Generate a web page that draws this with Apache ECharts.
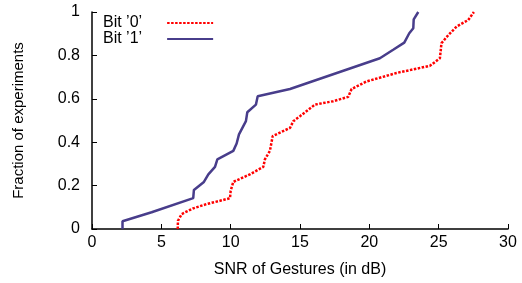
<!DOCTYPE html>
<html>
<head>
<meta charset="utf-8">
<script src="https://cdn.jsdelivr.net/npm/echarts@6/dist/echarts.min.js"></script>
<style>
  html, body { margin: 0; padding: 0; background: #fff; }
  #chart { width: 522px; height: 283px; }
</style>
</head>
<body>
<div id="chart"></div>
<script>
// SNR (dB) vs cumulative fraction
const bit0Snr = [6.18, 6.2, 6.47, 7.3, 8.27, 9.23, 9.95, 10.0, 10.19, 11.39, 12.35, 12.47, 12.83, 13.03, 14.28, 14.52, 15.0, 16.08, 17.4, 18.48, 18.72, 19.8, 21.96, 24.37, 25.09, 25.2, 25.7, 26.3, 27.13, 27.54];
const bit0Frac = [0, 0.038, 0.069, 0.095, 0.115, 0.13, 0.142, 0.176, 0.217, 0.252, 0.286, 0.321, 0.36, 0.428, 0.466, 0.497, 0.52, 0.573, 0.589, 0.609, 0.645, 0.68, 0.719, 0.752, 0.787, 0.856, 0.894, 0.933, 0.963, 1.0];

const bit1Snr = [2.2, 2.2, 4.3, 7.3, 7.35, 8.07, 8.39, 8.87, 9.04, 10.19, 10.43, 10.6, 11.1, 11.2, 11.82, 11.95, 14.28, 20.76, 21.72, 22.52, 22.88, 23.17, 23.2, 23.53];
const bit1Frac = [0, 0.036, 0.077, 0.142, 0.18, 0.217, 0.252, 0.286, 0.321, 0.36, 0.394, 0.436, 0.497, 0.538, 0.573, 0.612, 0.645, 0.787, 0.826, 0.859, 0.902, 0.925, 0.966, 1.0];

const seriesNames = ['Bit \u20190\u2019', 'Bit \u20191\u2019'];

const pairs = (xs, ys) => xs.map((x, i) => [x, ys[i]]);

const font = 'Liberation Sans, Arial, Helvetica, sans-serif';
const chart = echarts.init(document.getElementById('chart'));

const axisCommon = {
  axisLine: { show: true, lineStyle: { color: '#000', width: 1.5 } },
  axisTick: { show: true, inside: true, length: 5, lineStyle: { color: '#000', width: 1 } },
  splitLine: { show: false },
  axisLabel: { color: '#000', fontSize: 16, fontFamily: font },
  nameTextStyle: { color: '#000', fontSize: 16, fontFamily: font }
};

chart.setOption({
  animation: false,
  backgroundColor: '#fff',
  grid: { left: 92, right: 14, top: 12, bottom: 53 },
  legend: {
    orient: 'vertical',
    left: 103,
    top: 15,
    padding: 0,
    align: 'right',
    itemWidth: 46,
    itemHeight: 14,
    itemGap: 0,
    itemStyle: { opacity: 0 },
    textStyle: { color: '#000', fontSize: 16, fontFamily: font, padding: [0, 20, 0, 0] },
    data: seriesNames
  },
  xAxis: Object.assign({}, axisCommon, {
    type: 'value',
    min: 0,
    max: 30,
    interval: 5,
    name: 'SNR of Gestures (in dB)',
    nameLocation: 'middle',
    nameGap: 33,
    axisLabel: Object.assign({}, axisCommon.axisLabel, { margin: 6 })
  }),
  yAxis: Object.assign({}, axisCommon, {
    type: 'value',
    min: 0,
    max: 1,
    interval: 0.2,
    name: 'Fraction of experiments',
    nameLocation: 'middle',
    nameGap: 66,
    nameTextStyle: Object.assign({}, axisCommon.nameTextStyle, { fontSize: 15 }),
    axisLabel: Object.assign({}, axisCommon.axisLabel, { margin: 12 })
  }),
  series: [
    {
      name: seriesNames[0],
      type: 'line',
      data: pairs(bit0Snr, bit0Frac),
      symbol: 'none',
      lineStyle: { color: '#ff0000', width: 2.5, type: [2.5, 1.5], cap: 'butt' },
      itemStyle: { color: '#ff0000' }
    },
    {
      name: seriesNames[1],
      type: 'line',
      data: pairs(bit1Snr, bit1Frac),
      symbol: 'none',
      lineStyle: { color: '#483d8b', width: 2.5 },
      itemStyle: { color: '#483d8b' }
    }
  ]
});
</script>
</body>
</html>
